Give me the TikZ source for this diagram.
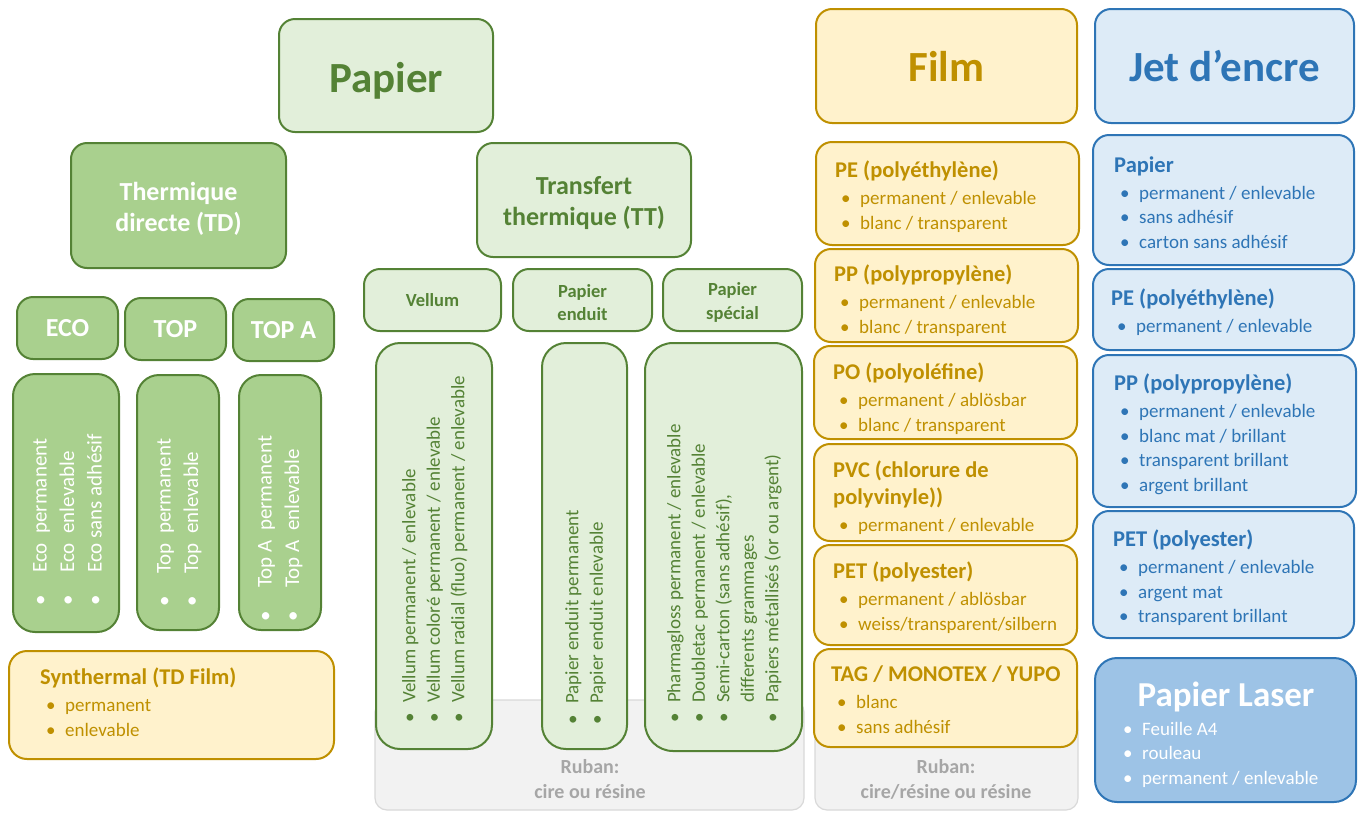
\documentclass[tikz,border=0pt]{standalone}
\usepackage{fontspec}
\setmainfont{Carlito}

\definecolor{vertfonce}{HTML}{548235}
\definecolor{vertclair}{HTML}{E2EFDA}
\definecolor{vertmoyen}{HTML}{A9D08E}
\definecolor{ambre}{HTML}{BF9000}
\definecolor{jaune}{HTML}{FFF2CC}
\definecolor{bleu}{HTML}{2E75B6}
\definecolor{bleuclair}{HTML}{DDEBF7}
\definecolor{bleumoyen}{HTML}{9DC3E6}
\definecolor{grisfond}{HTML}{F2F2F2}
\definecolor{grisbord}{HTML}{D9D9D9}
\definecolor{gristexte}{HTML}{A6A6A6}

\newcommand{\puce}{\hspace*{6pt}\makebox[19pt][l]{\textbullet}}
\newcommand{\titre}[1]{{\fontsize{22.5}{27}\selectfont\bfseries #1}}
\newcommand{\bas}[2]{\raisebox{-#1}[\height][\depth]{#2}}

\begin{document}
\begin{tikzpicture}[x=1pt, y=-1pt]
	\tikzset{boite/.style={draw, line width=2pt, rounded corners=16pt, inner sep=0pt},
		vclair/.style={boite, fill=vertclair, draw=vertfonce, text=vertfonce},
		vmoyen/.style={boite, fill=vertmoyen, draw=vertfonce, text=white},
		film/.style={boite, fill=jaune, draw=ambre, text=ambre},
		jet/.style={boite, fill=bleuclair, draw=bleu, text=bleu},
		ruban/.style={draw=grisbord, fill=grisfond, line width=1.2pt, rounded corners=12pt},
		gros/.style={font=\fontsize{43}{50}\selectfont\bfseries},
		moyen/.style={font=\fontsize{26}{31}\selectfont\bfseries, align=center},
		petit/.style={font=\fontsize{18.5}{23.5}\selectfont\bfseries, align=center},
		liste/.style={anchor=north west, inner sep=0pt, align=left,
				font=\fontsize{19}{24.5}\selectfont},
		vliste/.style={liste, rotate=90},
		vgrande/.style={vliste, font=\fontsize{21}{27.5}\selectfont}}
	\useasboundingbox (0,0) rectangle (1363,812);

	% Papier
	\node[vclair, gros, minimum width=214pt, minimum height=113pt] (papier) at (386,75.5) {\bas{5pt}{Papier}};
	\node[vmoyen, moyen, minimum width=215pt, minimum height=125pt] (td) at (178.5,205.5) {\bas{3pt}{Thermique}\\\bas{3pt}{directe (TD)}};
	\node[vclair, moyen, minimum width=214pt, minimum height=114pt] (tt) at (584,200) {\bas{3pt}{Transfert}\\\bas{3pt}{thermique (TT)}};

	\node[vmoyen, moyen, minimum width=101pt, minimum height=62pt] (eco) at (67.5,328) {ECO};
	\node[vmoyen, moyen, minimum width=101pt, minimum height=62pt] (top) at (175.5,329) {TOP};
	\node[vmoyen, moyen, minimum width=101pt, minimum height=62pt] (topa) at (283.5,330) {TOP A};

	\node[vmoyen, rounded corners=22pt, minimum width=106pt, minimum height=258pt] (l eco) at (66,503) {};
	\node[vmoyen, rounded corners=22pt, minimum width=82pt, minimum height=255pt] (l top) at (178,502.5) {};
	\node[vmoyen, rounded corners=22pt, minimum width=82pt, minimum height=255pt] (l topa) at (280,502.5) {};
	\node[vgrande, text=white] (t eco) at (33,606) {\makebox[33pt][l]{\textbullet}Eco\ \ permanent\\
		\makebox[33pt][l]{\textbullet}Eco\ \ enlevable\\ \makebox[33pt][l]{\textbullet}Eco sans adhésif};
	\node[vgrande, text=white] (t top) at (157,607) {\makebox[33pt][l]{\textbullet}Top\ \ permanent\\
		\makebox[33pt][l]{\textbullet}Top\ \ enlevable};
	\node[vgrande, text=white] (t topa) at (258,622) {\makebox[34pt][l]{\textbullet}Top A\ \ permanent\\
		\makebox[34pt][l]{\textbullet}Top A\ \ enlevable};

	\node[film, rounded corners=18pt, minimum width=325pt, minimum height=108pt] (synth) at (171.5,705) {};
	\node[liste, text=ambre] (t synth) at (40,668) {\titre{Synthermal (TD Film)}\\[2.5pt]
		\puce permanent\\ \puce enlevable};

	% Transfert thermique
	\draw[ruban] (375,700) rectangle (804,810);
	\node[font=\fontsize{20}{25}\selectfont\bfseries, text=gristexte, align=center] (ruban tt) at (590,779.5) {Ruban:\\cire ou résine};

	\node[vclair, petit, minimum width=137pt, minimum height=62pt] (vellum) at (432.5,300) {Vellum};
	\node[vclair, petit, minimum width=139pt, minimum height=62pt] (enduit) at (582.5,300) {\bas{2.5pt}{Papier}\\\bas{2.5pt}{enduit}};
	\node[vclair, petit, minimum width=139pt, minimum height=62pt] (special) at (732.5,300) {\bas{2.5pt}{Papier}\\\bas{2.5pt}{spécial}};

	\node[vclair, rounded corners=24pt, minimum width=116pt, minimum height=406pt] (l vellum) at (434,546) {};
	\node[vclair, rounded corners=24pt, minimum width=85pt, minimum height=406pt] (l enduit) at (584.5,546) {};
	\node[vclair, rounded corners=28pt, minimum width=157pt, minimum height=408pt] (l special) at (723.5,547) {};
	\node[vliste, text=vertfonce] (t vellum) at (402,723) {\makebox[20pt][l]{\textbullet}Vellum permanent / enlevable\\
		\makebox[20pt][l]{\textbullet}Vellum coloré permanent / enlevable\\
		\makebox[20pt][l]{\textbullet}Vellum radial (fluo) permanent / enlevable};
	\node[vliste, text=vertfonce] (t enduit) at (565,725) {\makebox[21pt][l]{\textbullet}Papier enduit permanent\\
		\makebox[21pt][l]{\textbullet}Papier enduit enlevable};
	\node[vliste, text=vertfonce] (t special) at (667,723) {\makebox[20pt][l]{\textbullet}Pharmagloss permanent / enlevable\\
		\makebox[20pt][l]{\textbullet}Doubletac permanent / enlevable\\
		\makebox[20pt][l]{\textbullet}Semi-carton (sans adhésif),\\
		\makebox[20pt][l]{}differents grammages\\
		\makebox[20pt][l]{\textbullet}Papiers métallisés (or ou argent)};

	% Film
	\node[film, gros, minimum width=261pt, minimum height=114pt] (film) at (946.5,66) {Film};
	\draw[ruban] (815,700) rectangle (1078,810);
	\node[font=\fontsize{20}{25}\selectfont\bfseries, text=gristexte, align=center] (ruban film) at (946,779.5) {Ruban:\\cire/résine ou résine};

	\node[film, minimum width=263pt, minimum height=103pt] (pe) at (947.5,193.5) {};
	\node[film, minimum width=263pt, minimum height=93pt] (pp) at (946.5,295.5) {};
	\node[film, minimum width=263pt, minimum height=93pt] (po) at (945.5,392.5) {};
	\node[film, minimum width=263pt, minimum height=97pt] (pvc) at (945.5,492.5) {};
	\node[film, minimum width=263pt, minimum height=100pt] (pet) at (945.5,595) {};
	\node[film, minimum width=263pt, minimum height=98pt] (tag) at (945.5,698) {};
	\node[liste, text=ambre] (t pe) at (835,161) {\titre{PE (polyéthylène)}\\[2.5pt]
		\puce permanent / enlevable\\ \puce blanc / transparent};
	\node[liste, text=ambre] (t pp) at (834,265) {\titre{PP (polypropylène)}\\[2.5pt]
		\puce permanent / enlevable\\ \puce blanc / transparent};
	\node[liste, text=ambre] (t po) at (833,363) {\titre{PO (polyoléfine)}\\[2.5pt]
		\puce permanent / ablösbar\\ \puce blanc / transparent};
	\node[liste, text=ambre] (t pvc) at (833,461) {\titre{PVC (chlorure de}\\[2.5pt]
		\titre{polyvinyle))}\\[2.5pt] \puce permanent / enlevable};
	\node[liste, text=ambre] (t pet) at (833,562) {\titre{PET (polyester)}\\[2.5pt]
		\puce permanent / ablösbar\\ \puce weiss/transparent/silbern};
	\node[liste, text=ambre] (t tag) at (831,666) {\titre{TAG / MONOTEX / YUPO}\\[2.5pt]
		\puce blanc\\ \puce sans adhésif};

	% Jet d'encre
	\node[jet, gros, minimum width=259pt, minimum height=114pt] (jet) at (1224.5,66) {Jet d’encre};
	\node[jet, minimum width=261pt, minimum height=130pt] (j papier) at (1223.5,200) {};
	\node[jet, minimum width=261pt, minimum height=81pt] (j pe) at (1223.5,309.5) {};
	\node[jet, minimum width=263pt, minimum height=152pt] (j pp) at (1224.5,431) {};
	\node[jet, minimum width=261pt, minimum height=127pt] (j pet) at (1223.5,574.5) {};
	\node[liste, text=bleu] (t j papier) at (1114,156.5) {\titre{Papier}\\[2.5pt]
		\puce permanent / enlevable\\ \puce sans adhésif\\ \puce carton sans adhésif};
	\node[liste, text=bleu] (t j pe) at (1111,289) {\titre{PE (polyéthylène)}\\[2.5pt]
		\puce permanent / enlevable};
	\node[liste, text=bleu] (t j pp) at (1114,374) {\titre{PP (polypropylène)}\\[2.5pt]
		\puce permanent / enlevable\\ \puce blanc mat / brillant\\ \puce transparent brillant\\
		\puce argent brillant};
	\node[liste, text=bleu] (t j pet) at (1113,530) {\titre{PET (polyester)}\\[2.5pt]
		\puce permanent / enlevable\\ \puce argent mat\\ \puce transparent brillant};

	\node[boite, fill=bleumoyen, draw=bleu, rounded corners=22pt, minimum width=261pt, minimum height=144pt] (laser) at (1225.5,730) {};
	\node[font=\fontsize{35}{40}\selectfont\bfseries, text=white] (t laser) at (1226,697) {Papier Laser};
	\node[liste, text=white] (l laser) at (1117,722) {\puce Feuille A4\\ \puce rouleau\\ \puce permanent / enlevable};
\end{tikzpicture}
\end{document}
